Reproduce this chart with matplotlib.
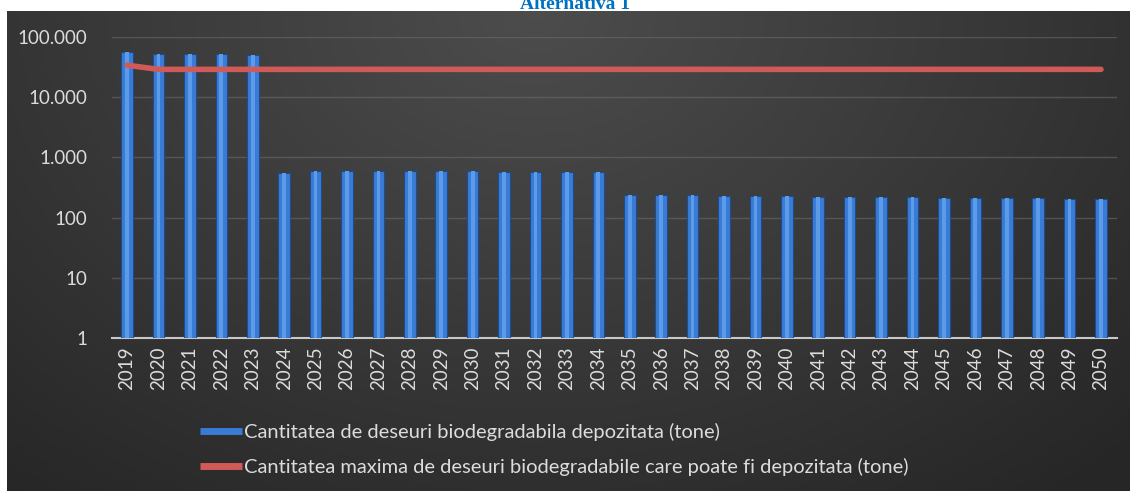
# Alternativa 1: biodegradable waste landfilled vs. maximum allowed, log scale
import numpy as np
import matplotlib.pyplot as plt
from matplotlib.lines import Line2D
from matplotlib.ticker import FixedLocator, FuncFormatter

years = list(range(2019, 2051))

# cantitatea depozitata (tone)
depozitat = [56000, 53000, 53000, 52000, 51000,
             540, 600, 600, 600, 600, 600, 595, 570, 570, 570, 565,
             240, 235, 232, 228, 226, 224, 222, 220, 218, 216, 214,
             212, 210, 207, 205, 203]

# cantitatea maxima admisa (tone)
maxim = [34000] + [29000] * 31

label_bar = 'Cantitatea de deseuri biodegradabila depozitata (tone)'
label_line = 'Cantitatea maxima de deseuri biodegradabile care poate fi depozitata (tone)'

W, H = 1130, 491
fig = plt.figure(figsize=(W / 100, H / 100), dpi=100, facecolor='white')

# dark chart background with soft radial light near the top
bg = fig.add_axes([7 / W, 0, 1 - 7 / W, 1 - 11 / H])
gx, gy = np.meshgrid(np.linspace(0, 1, 400), np.linspace(0, 1, 200))
r = np.sqrt(((gx - 0.47) / 0.75) ** 2 + ((gy - 0.0) / 1.3) ** 2)
shade = 0.30 - 0.15 * np.clip(r, 0, 1)
bg.imshow(np.dstack([shade] * 3), aspect='auto', extent=[0, 1, 0, 1])
bg.set_axis_off()

ax = fig.add_axes([112 / W, 1 - 338 / H, (1117 - 112) / W, (338 - 37) / H])
ax.patch.set_alpha(0)

x = np.arange(len(years))
ax.bar(x, depozitat, width=0.37, bottom=1, color='#3a7bd5',
       edgecolor='#1d4c8f', linewidth=0.8, zorder=3)
ax.bar(x, depozitat, width=0.12, bottom=1, color='#5b9be8',
       linewidth=0, zorder=3)
ax.plot(x, maxim, color='#d05a58', lw=4, solid_capstyle='round', zorder=4)

ax.set_yscale('log')
ax.set_ylim(1, 100000)
ax.set_xlim(-0.48, len(years) - 0.49)
ax.yaxis.set_major_locator(FixedLocator([1, 10, 100, 1000, 10000, 100000]))
ax.yaxis.set_minor_locator(FixedLocator([]))
ax.yaxis.set_major_formatter(FuncFormatter(lambda v, p: f'{int(round(v)):,}'.replace(',', '.')))
ax.grid(axis='y', color='#6a6a6a', lw=1, alpha=0.6, zorder=0)

ax.set_xticks(x)
ax.set_xticklabels([str(y) for y in years], rotation=90)
ax.tick_params(axis='both', length=0, colors='#dcdcdc', labelsize=13.5)
ax.tick_params(axis='y', pad=18)
ax.tick_params(axis='x', pad=6)
for lab in ax.get_xticklabels() + ax.get_yticklabels():
    lab.set_family('Lato')

for s in ['top', 'right', 'left']:
    ax.spines[s].set_visible(False)
ax.spines['bottom'].set_color('#c8c8c8')
ax.spines['bottom'].set_linewidth(1.5)

handles = [Line2D([], [], color='#3a7bd5', lw=5, solid_capstyle='butt'),
           Line2D([], [], color='#d05a58', lw=5, solid_capstyle='butt')]
fig.legend(handles, [label_bar, label_line], loc='upper left',
           bbox_to_anchor=(200 / W, 1 - 423 / H), frameon=False,
           prop={'family': 'Lato', 'size': 14.5}, labelcolor='#dcdcdc',
           handlelength=2.1, handletextpad=0.1, labelspacing=0.85,
           borderpad=0, borderaxespad=0)

fig.text(575 / W, 1 - 9 / H, 'Alternativa 1', ha='center', va='baseline',
         family='Liberation Serif', weight='bold', color='#0070c0', fontsize=14)

fig.savefig('out.png', dpi=100, facecolor='white')
